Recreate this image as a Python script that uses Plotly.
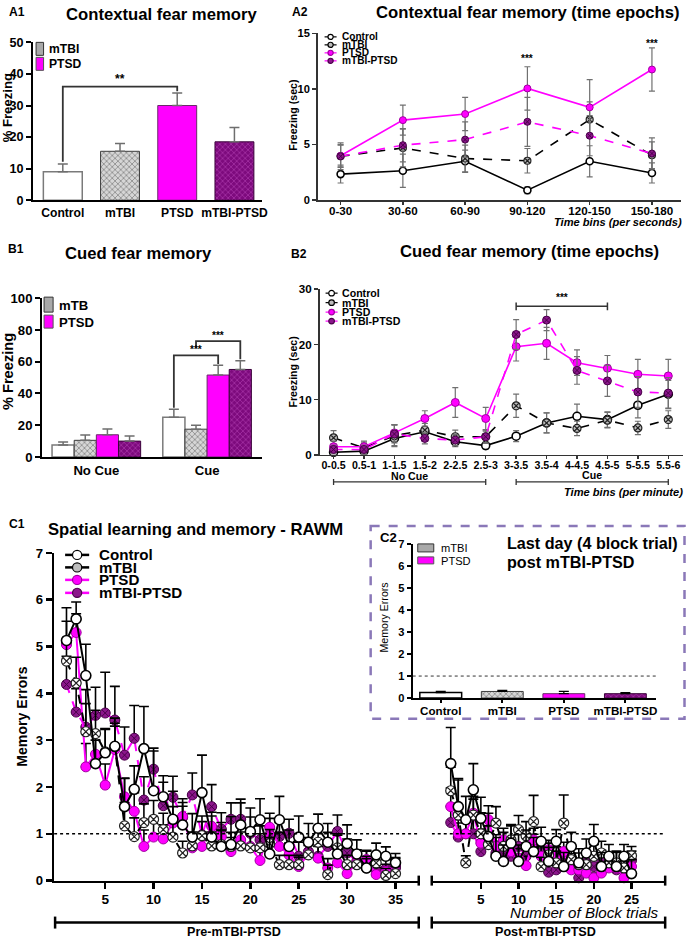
import plotly.graph_objects as go

# ---------------- data ----------------
a1_groups = ["Control", "mTBI", "PTSD", "mTBI-PTSD"]
a1_mean = [9.0, 15.5, 30.0, 18.5]
a1_sem = [2.5, 2.5, 4.0, 4.5]

a2_bins = ["0-30", "30-60", "60-90", "90-120", "120-150", "150-180"]
a2_control = [2.35, 2.65, 3.5, 0.9, 3.5, 2.45]
a2_control_err = [0.8, 1.5, 1.0, 0.3, 1.4, 0.9]
a2_mtbi = [3.95, 4.7, 3.75, 3.55, 7.25, 4.05]
a2_mtbi_err = [1.2, 1.7, 1.2, 1.1, 1.6, 1.2]
a2_ptsd = [4.0, 7.2, 7.75, 10.05, 8.35, 11.75]
a2_ptsd_err = [1.0, 1.35, 1.5, 1.95, 2.5, 1.95]
a2_combo = [3.95, 4.95, 5.45, 7.05, 5.8, 4.2]
a2_combo_err = [1.0, 1.5, 1.6, 2.2, 1.8, 1.4]

b1_conditions = ["No Cue", "Cue"]
b1_control = [7.5, 25.0]
b1_control_err = [2.0, 5.0]
b1_mtbi = [10.5, 17.5]
b1_mtbi_err = [3.3, 2.5]
b1_ptsd = [14.0, 51.6]
b1_ptsd_err = [3.6, 6.2]
b1_combo = [10.0, 55.1]
b1_combo_err = [3.2, 5.5]

b2_bins = ["0-0.5", "0.5-1", "1-1.5", "1.5-2", "2-2.5", "2.5-3",
           "3-3.5", "3.5-4", "4-4.5", "4.5-5", "5-5.5", "5.5-6"]
b2_control = [0.5, 0.7, 3.0, 4.2, 2.4, 1.7, 3.4, 5.8, 7.0, 6.4, 9.0, 11.0]
b2_control_err = [0.5, 0.4, 1.3, 1.0, 0.9, 0.6, 1.0, 1.8, 2.2, 1.4, 2.3, 2.5]
b2_mtbi = [3.1, 1.3, 3.5, 4.5, 3.3, 3.3, 8.9, 5.8, 4.8, 6.3, 4.9, 6.4]
b2_mtbi_err = [1.3, 1.2, 2.0, 1.2, 1.2, 1.2, 2.1, 1.8, 1.3, 1.4, 1.2, 1.6]
b2_ptsd = [1.5, 1.5, 4.0, 6.6, 9.5, 6.6, 19.6, 20.2, 16.7, 15.7, 14.6, 14.3]
b2_ptsd_err = [1.0, 0.8, 1.5, 1.4, 2.7, 2.0, 2.6, 2.9, 2.3, 2.3, 2.7, 3.0]
b2_combo = [1.0, 1.0, 3.8, 3.0, 2.7, 3.3, 21.8, 24.4, 15.3, 13.4, 11.4, 11.2]
b2_combo_err = [0.8, 0.8, 1.6, 1.0, 1.0, 1.0, 2.7, 1.9, 2.5, 2.8, 2.8, 2.8]

pre_trials = list(range(1, 36))
pre_control = [5.13, 5.59, 4.38, 2.5, 2.73, 2.87, 1.58, 1.95, 2.82, 1.92, 1.79, 1.31, 1.19, 0.93, 1.88,
               0.93, 0.73, 0.77, 1.19, 1.05, 1.3, 0.57, 1.3, 0.73, 0.93, 0.82, 1.12, 0.82, 0.57, 0.79,
               0.57, 0.27, 0.55, 0.52, 0.38]
pre_control_err = [0.7, 0.36, 0.67, 0.5, 0.5, 0.6, 0.6, 0.5, 0.9, 0.85, 0.45, 0.6, 0.4, 0.5, 0.8,
                   0.45, 0.35, 0.6, 0.55, 0.5, 0.45, 0.35, 0.5, 0.35, 0.45, 0.4, 0.3, 0.4, 0.4, 0.4,
                   0.3, 0.25, 0.25, 0.2, 0.2]
pre_mtbi = [4.69, 4.22, 3.18, 3.14, 2.75, 2.86, 1.17, 0.94, 1.24, 1.31, 1.09, 0.93, 0.59, 0.74, 0.96,
            0.74, 0.77, 0.73, 0.74, 0.7, 0.7, 0.79, 0.34, 0.34, 0.34, 0.55, 0.82, 0.13, 0.7, 0.34,
            0.34, 0.27, 0.38, 0.11, 0.15]
pre_mtbi_err = [0.4, 0.55, 0.6, 0.5, 0.5, 0.5, 0.5, 0.4, 0.4, 0.4, 0.35, 0.3, 0.25, 0.3, 0.3,
                0.3, 0.3, 0.3, 0.3, 0.3, 0.3, 0.3, 0.2, 0.2, 0.2, 0.2, 0.3, 0.2, 0.3, 0.2,
                0.2, 0.2, 0.2, 0.15, 0.15]
pre_ptsd = [5.04, 5.3, 2.43, 2.7, 2.04, 2.8, 1.79, 1.48, 0.73, 0.93, 0.89, 1.23, 1.37, 0.7, 0.73,
            1.16, 0.94, 0.62, 0.87, 0.73, 0.43, 1.14, 0.73, 0.55, 0.3, 0.57, 0.48, 0.27, 0.38, 0.15,
            0.38, 0.45, 0.13, 0.2, 0.34]
pre_ptsd_err = [0.5, 0.4, 0.5, 0.5, 0.45, 0.5, 0.4, 0.4, 0.35, 0.35, 0.3, 0.35, 0.3, 0.3, 0.3,
                0.3, 0.3, 0.3, 0.3, 0.3, 0.2, 0.3, 0.3, 0.25, 0.2, 0.25, 0.25, 0.2, 0.2, 0.15,
                0.2, 0.2, 0.15, 0.15, 0.15]
pre_combo = [4.19, 3.6, 3.28, 3.53, 3.58, 3.43, 2.68, 3.04, 1.72, 2.38, 1.6, 1.78, 1.35, 1.83, 0.98,
             1.58, 1.1, 1.31, 1.31, 1.01, 0.87, 0.98, 0.94, 1.01, 0.52, 0.62, 0.52, 0.73, 1.05, 0.59,
             0.41, 0.38, 0.23, 0.25, 0.27]
pre_combo_err = [0.6, 0.5, 0.8, 0.6, 0.87, 0.72, 0.6, 0.7, 0.5, 0.45, 0.5, 0.45, 0.4, 0.47, 0.4,
                 0.47, 0.35, 0.35, 0.35, 0.35, 0.3, 0.35, 0.3, 0.3, 0.3, 0.3, 0.25, 0.3, 0.35, 0.3,
                 0.25, 0.25, 0.2, 0.2, 0.2]

post_trials = list(range(1, 26))
post_control = [2.5, 1.58, 1.3, 1.94, 1.33, 0.94, 0.52, 0.41, 0.8, 0.41, 0.73, 0.62, 0.84, 0.41, 0.84,
                0.3, 0.73, 0.38, 0.59, 0.84, 0.3, 0.52, 0.3, 0.52, 0.15]
post_control_err = [0.77, 0.6, 0.5, 0.56, 0.45, 0.5, 0.4, 0.35, 0.4, 0.35, 0.35, 0.3, 0.3, 0.3, 0.25,
                    0.3, 0.3, 0.3, 0.3, 0.36, 0.3, 0.25, 0.3, 0.25, 0.3]
post_mtbi = [1.92, 1.4, 0.38, 1.4, 1.0, 0.77, 1.23, 0.73, 0.87, 1.09, 0.96, 1.26, 0.3, 0.55, 0.38,
             1.23, 0.45, 0.34, 0.34, 0.52, 0.59, 0.38, 0.38, 0.27, 0.53]
post_mtbi_err = [0.5, 0.75, 0.15, 0.4, 0.45, 0.4, 0.35, 0.3, 0.3, 0.3, 0.3, 0.56, 0.2, 0.25, 0.25,
                 0.6, 0.3, 0.25, 0.25, 0.25, 0.25, 0.2, 0.25, 0.2, 0.2]
post_ptsd = [1.58, 1.0, 1.0, 1.44, 0.8, 1.3, 0.73, 0.87, 0.62, 0.48, 0.32, 0.87, 0.52, 0.66, 0.52,
             0.62, 0.23, 0.23, 0.16, 0.06, 0.16, 0.27, 0.27, 0.06, 0.3]
post_ptsd_err = [0.4, 0.3, 0.3, 0.3, 0.3, 0.3, 0.25, 0.25, 0.25, 0.2, 0.2, 0.25, 0.2, 0.2, 0.2,
                 0.2, 0.15, 0.15, 0.15, 0.1, 0.15, 0.15, 0.15, 0.1, 0.15]
post_combo = [1.24, 0.93, 1.0, 1.0, 0.62, 0.87, 0.59, 0.55, 0.52, 0.73, 0.52, 0.74, 0.59, 0.18, 0.23,
              0.45, 0.38, 0.06, 0.38, 0.3, 0.45, 0.34, 0.23, 0.27, 0.43]
post_combo_err = [0.35, 0.3, 0.3, 0.3, 0.25, 0.3, 0.25, 0.25, 0.25, 0.25, 0.2, 0.25, 0.2, 0.15, 0.15,
                  0.2, 0.2, 0.1, 0.2, 0.15, 0.2, 0.15, 0.15, 0.15, 0.2]

c2_groups = ["Control", "mTBI", "PTSD", "mTBI-PTSD"]
c2_mean = [0.25, 0.3, 0.2, 0.2]
c2_err = [0.05, 0.05, 0.1, 0.05]

pre_ticks = [5, 10, 15, 20, 25, 30, 35]
post_ticks = [5, 10, 15, 20, 25]

# ---------------- helpers ----------------
W, H = 690, 944
SX, SY, OY = 0.991, 0.985, 6.6   # compensation for how the page is photographed
def PX(x): return min(x / SX, W - 0.5) / W
def PY(y): return 1 - min(max((y - OY) / SY, 0.5), H - 0.5) / H

FONT = "Liberation Sans, Arial, sans-serif"
MAG = "#FF00FF"
PUR = "#8B168B"

def fnt(size, bold=True, italic=False, color="black"):
    d = dict(family=FONT, size=round(size * 1.01, 2), color=color, weight="bold" if bold else "normal")
    if italic:
        d["style"] = "italic"
    return d

bar_style = {
    "Control": dict(color="white", line=dict(color="#7a7a7a", width=1.5)),
    "mTBI": dict(color="#bdbdbd", line=dict(color="#3c3c3c", width=1),
                 pattern=dict(shape="x", fgcolor="#4a4a4a", bgcolor="#d6d6d6", size=4, solidity=0.4)),
    "PTSD": dict(color=MAG, line=dict(color="#6a2a6a", width=1)),
    "mTBI-PTSD": dict(color=PUR, line=dict(color="#3a003a", width=1),
                      pattern=dict(shape="x", fgcolor="#c24fc2", bgcolor="#7d0a7d", size=4, solidity=0.4)),
}

def line_style(group, lw, msize, mtbi_fill):
    if group == "Control":
        return dict(line=dict(color="black", width=lw),
                    marker=dict(symbol="circle", size=msize, color="white", line=dict(color="black", width=1.6)))
    if group == "mTBI":
        return dict(line=dict(color="black", width=lw, dash="dash"),
                    marker=dict(symbol="circle-x", size=msize, color=mtbi_fill, line=dict(color="#222", width=1.2)))
    if group == "PTSD":
        return dict(line=dict(color=MAG, width=lw),
                    marker=dict(symbol="circle", size=msize, color=MAG, line=dict(color="#a000a0", width=1)))
    return dict(line=dict(color=MAG, width=lw, dash="dash"),
                marker=dict(symbol="circle-x", size=msize, color=PUR, line=dict(color="#4a004a", width=1)))

fig = go.Figure()

# ---------------- A1 ----------------
for g, m, e in zip(a1_groups, a1_mean, a1_sem):
    fig.add_trace(go.Bar(x=[g], y=[m], xaxis="x", yaxis="y", width=0.68, offset=-0.34,
                         marker=bar_style[g],
                         error_y=dict(type="data", array=[e], arrayminus=[0], symmetric=False,
                                      color="#6e6e6e", thickness=1.5, width=5)))

# ---------------- A2 ----------------
for g, ys, es in [("Control", a2_control, a2_control_err), ("mTBI", a2_mtbi, a2_mtbi_err),
                  ("PTSD", a2_ptsd, a2_ptsd_err), ("mTBI-PTSD", a2_combo, a2_combo_err)]:
    st = line_style(g, 1.6, 7, "#bdbdbd")
    fig.add_trace(go.Scatter(x=a2_bins, y=ys, xaxis="x2", yaxis="y2", mode="lines+markers",
                             cliponaxis=False, **st,
                             error_y=dict(type="data", array=es, color="#707070", thickness=1.2, width=3)))

# ---------------- B1 ----------------
for g, ys, es, off in [("Control", b1_control, b1_control_err, -0.4), ("mTBI", b1_mtbi, b1_mtbi_err, -0.2),
                       ("PTSD", b1_ptsd, b1_ptsd_err, 0.0), ("mTBI-PTSD", b1_combo, b1_combo_err, 0.2)]:
    fig.add_trace(go.Bar(x=b1_conditions, y=ys, xaxis="x3", yaxis="y3", width=0.2, offset=off,
                         marker=bar_style[g],
                         error_y=dict(type="data", array=es, arrayminus=[0] * len(es), symmetric=False,
                                      color="#6e6e6e", thickness=1.5, width=5)))

# ---------------- B2 ----------------
for g, ys, es in [("Control", b2_control, b2_control_err), ("mTBI", b2_mtbi, b2_mtbi_err),
                  ("PTSD", b2_ptsd, b2_ptsd_err), ("mTBI-PTSD", b2_combo, b2_combo_err)]:
    st = line_style(g, 1.6, 8, "#bdbdbd")
    fig.add_trace(go.Scatter(x=b2_bins, y=ys, xaxis="x4", yaxis="y4", mode="lines+markers",
                             cliponaxis=False, **st,
                             error_y=dict(type="data", array=es, color="#707070", thickness=1.2, width=3)))

# ---------------- C1 ----------------
c1_pre = [("mTBI-PTSD", pre_combo, pre_combo_err), ("PTSD", pre_ptsd, pre_ptsd_err),
          ("mTBI", pre_mtbi, pre_mtbi_err), ("Control", pre_control, pre_control_err)]
c1_post = [("mTBI-PTSD", post_combo, post_combo_err), ("PTSD", post_ptsd, post_ptsd_err),
           ("mTBI", post_mtbi, post_mtbi_err), ("Control", post_control, post_control_err)]
for (g, ys, es) in c1_pre:
    st = line_style(g, 2, 10, "white")
    fig.add_trace(go.Scatter(x=pre_trials, y=ys, xaxis="x5", yaxis="y5", mode="lines+markers",
                             cliponaxis=False, **st,
                             error_y=dict(type="data", array=es, arrayminus=[0] * len(es), symmetric=False,
                                          color="black", thickness=1.6, width=5)))
for (g, ys, es) in c1_post:
    st = line_style(g, 2, 10, "white")
    fig.add_trace(go.Scatter(x=post_trials, y=ys, xaxis="x6", yaxis="y5", mode="lines+markers",
                             cliponaxis=False, **st,
                             error_y=dict(type="data", array=es, arrayminus=[0] * len(es), symmetric=False,
                                          color="black", thickness=1.6, width=5)))

# ---------------- C2 ----------------
for g, m, e in zip(c2_groups, c2_mean, c2_err):
    fig.add_trace(go.Bar(x=[g], y=[m], xaxis="x7", yaxis="y7", width=0.68, offset=-0.34,
                         marker=bar_style[g] if g != "Control" else dict(color="white", line=dict(color="black", width=1.5)),
                         error_y=dict(type="data", array=[e], arrayminus=[0], symmetric=False,
                                      color="black", thickness=1.2, width=5)))

# ---------------- axes ----------------
def xax(x0, x1, anchor, rng, tickfont, ticks="", ticklen=0, lw=2, lc="black", cat=True, **kw):
    d = dict(domain=[PX(x0), PX(x1)], anchor=anchor, range=rng, showline=True, linecolor=lc, linewidth=lw,
             showgrid=False, zeroline=False, ticks=ticks, ticklen=ticklen, tickwidth=lw, tickcolor=lc,
             tickfont=tickfont, fixedrange=True)
    if cat:
        d["type"] = "category"
    d.update(kw)
    return d

def yax(y0, y1, anchor, rng, dtick, tickfont, lw=2, lc="black", ticklen=5, **kw):
    d = dict(domain=[PY(y0), PY(y1)], anchor=anchor, range=rng, dtick=dtick, showline=True, linecolor=lc,
             linewidth=lw, showgrid=False, zeroline=False, ticks="outside", ticklen=ticklen, tickwidth=lw,
             tickcolor=lc, tickfont=tickfont, fixedrange=True)
    d.update(kw)
    return d

fig.update_layout(
    xaxis=xax(33, 262, "y", [-0.52, 3.49], fnt(12)),
    yaxis=yax(200, 42, "x", [0, 50], 10, fnt(12.5)),
    xaxis2=xax(317, 680, "y2", [-0.37, 5.47], fnt(11.5), ticks="outside", ticklen=3, lw=1.5, lc="#333",
               ticklabelstandoff=-4),
    yaxis2=yax(200, 33, "x2", [0, 15], 5, fnt(11), lw=1.5, lc="#333", ticklen=4),
    xaxis3=xax(42, 262, "y3", [-0.49, 1.5], fnt(13)),
    yaxis3=yax(457, 298, "x3", [0, 100], 20, fnt(13)),
    xaxis4=xax(319, 682, "y4", [-0.46, 11.49], fnt(10.5), ticks="outside", ticklen=3, lw=1.5, lc="#333",
               ticklabelstandoff=-3),
    yaxis4=yax(455, 289, "x4", [0, 30], 10, fnt(11.5), lw=1.5, lc="#333", ticklen=4),
    xaxis5=xax(54, 418, "y5", [-0.28, 37.4], fnt(13.5), ticks="outside", ticklen=6, lw=2.5, cat=False,
               tickmode="array", tickvals=pre_ticks, ticklabelstandoff=-1),
    xaxis6=xax(431, 664, "y5", [-1.52, 29.47], fnt(13.5), ticks="outside", ticklen=6, lw=2.5, cat=False,
               tickmode="array", tickvals=post_ticks, ticklabelstandoff=-1),
    yaxis5=yax(881, 553, "x5", [0, 7], 1, fnt(13), lw=2.5, ticklen=6),
    xaxis7=xax(412, 655, "y7", [-0.455, 3.5], fnt(11.5), ticks="outside", ticklen=3, lw=2,
               ticklabelstandoff=-2),
    yaxis7=yax(698.3, 544, "x7", [0, 7], 1, fnt(11), lw=2, ticklen=4),
)

# ---------------- shapes & annotations ----------------
shapes = []
anns = []

def ann(text, x, y, size, bold=True, italic=False, xanchor="center", yanchor="middle", angle=0,
        xref="paper", yref="paper", color="black"):
    anns.append(dict(text=text, x=PX(x) if xref == "paper" else x, y=PY(y) if yref == "paper" else y,
                     xref=xref, yref=yref, showarrow=False, xanchor=xanchor, yanchor=yanchor,
                     textangle=angle, font=fnt(size, bold, italic, color)))

def pline(x0, y0, x1, y1, color="black", width=1.5, dash="solid"):
    shapes.append(dict(type="line", xref="paper", yref="paper", x0=PX(x0), y0=PY(y0), x1=PX(x1), y1=PY(y1),
                       line=dict(color=color, width=width, dash=dash)))

def prect(x0, y0, x1, y1, fill, lc="#333", lw=1, dash="solid"):
    shapes.append(dict(type="rect", xref="paper", yref="paper", x0=PX(x0), y0=PY(y0), x1=PX(x1), y1=PY(y1),
                       fillcolor=fill, line=dict(color=lc, width=lw, dash=dash)))

def pcircle(cx, cy, r, fill, lc, lw=1):
    shapes.append(dict(type="circle", xref="paper", yref="paper", x0=PX(cx - r), x1=PX(cx + r),
                       y0=PY(cy + r), y1=PY(cy - r), fillcolor=fill, line=dict(color=lc, width=lw)))

def dpath(points, xr, yr, color="#333", width=1.5, dash="solid"):
    path = "M" + " L".join(f"{x},{y}" for x, y in points)
    shapes.append(dict(type="path", xref=xr, yref=yr, path=path, line=dict(color=color, width=width, dash=dash)))

def dline(x0, y0, x1, y1, xr, yr, color="black", width=1.5, dash="solid"):
    shapes.append(dict(type="line", xref=xr, yref=yr, x0=x0, y0=y0, x1=x1, y1=y1,
                       line=dict(color=color, width=width, dash=dash)))

# titles & panel labels
ann("A1", 7, 12, 12, xanchor="left")
ann("Contextual fear memory", 161, 14, 16.5)
ann("A2", 289, 12, 12, xanchor="left")
ann("Contextual fear memory (time epochs)", 527, 12, 16.5)
ann("B1", 6, 249, 12, xanchor="left")
ann("Cued fear memory", 138, 253, 16.5)
ann("B2", 288, 254, 12, xanchor="left")
ann("Cued fear memory (time epochs)", 529, 251, 16.5)
ann("C1", 7, 524, 12, xanchor="left")
ann("Spatial learning and memory - RAWM", 195, 530, 16.5)
ann("C2", 377, 538, 13, xanchor="left")
ann("Last day (4 block trial)", 504, 543, 16, xanchor="left")
ann("post mTBI-PTSD", 504, 562, 16, xanchor="left")

# axis titles
ann("% Freezing", 7, 108, 13, angle=-90)
ann("Freezing (sec)", 293, 115, 10.5, angle=-90)
ann("Time bins (per seconds)", 683, 222, 11, italic=True, xanchor="right")
ann("% Freezing", 8, 372, 14.5, angle=-90)
ann("Freezing (sec)", 293, 372, 10.5, angle=-90)
ann("Time bins (per minute)", 687, 492, 11, italic=True, xanchor="right")
ann("Memory Errors", 22, 717, 14, angle=-90)
ann("Number of Block trials", 660, 913, 15, bold=False, italic=True, xanchor="right")
ann("Memory Errors", 383, 618, 10.5, bold=False, angle=-90)

# A1 legend
prect(36, 42, 43.5, 55, "#a9a9a9", "#333")
prect(36, 57, 43.5, 70, MAG, "#555")
ann("mTBI", 47, 48.5, 12, xanchor="left")
ann("PTSD", 47, 63.5, 12, xanchor="left")
# B1 legend
prect(44, 297, 53, 312, "#a9a9a9", "#333")
prect(44, 315, 53, 328, MAG, "#555")
ann("mTB", 57, 305, 13, xanchor="left")
ann("PTSD", 57, 322, 13, xanchor="left")
# C2 legend
prect(417, 544, 433, 552, "#a9a9a9", "#333")
prect(417, 557, 433, 564, MAG, "#555")
ann("mTBI", 438, 548, 11, bold=False, xanchor="left")
ann("PTSD", 438, 561, 11, bold=False, xanchor="left")

# scatter legends
leg_groups = ["Control", "mTBI", "PTSD", "mTBI-PTSD"]
leg_look = {
    "Control": ("black", "solid", "white", "black"),
    "mTBI": ("black", "solid", "#bdbdbd", "black"),
    "PTSD": (MAG, "solid", MAG, "#a000a0"),
    "mTBI-PTSD": (MAG, "solid", PUR, "#4a004a"),
}
def scatter_legend(xs, xl0, xl1, xt, rows, r, size, lw):
    for g, yy in zip(leg_groups, rows):
        lc, dash, fill, edge = leg_look[g]
        pline(xl0, yy, xl1, yy, lc, lw, dash)
        pcircle(xs, yy, r, fill, edge, 1.2)
        ann(g, xt, yy, size, xanchor="left")

scatter_legend(330, 324, 336, 339, [36.5, 44.5, 52.5, 60.5], 2.6, 10, 1.2)
scatter_legend(331, 325, 337, 339, [293, 302.5, 312, 321], 2.8, 10.5, 1.2)
scatter_legend(77, 65, 89, 97, [555, 567.5, 580, 593], 4.6, 15, 2.5)

# A1 significance bracket
dpath([(0, 12.2), (0, 36), (2, 36), (2, 34.5)], "x", "y", "#333", 1.8)
ann("**", 1, 38.3, 12, xref="x", yref="y")
# A2 stars
ann("***", 3, 12.7, 10, xref="x2", yref="y2")
ann("***", 5, 14.1, 10, xref="x2", yref="y2")
# B1 brackets
dpath([(0.7, 31), (0.7, 64), (1.1, 64), (1.1, 58.5)], "x3", "y3", "#333", 1.8)
ann("***", 0.9, 67.5, 10, xref="x3", yref="y3")
dpath([(0.9, 69), (0.9, 73), (1.3, 73), (1.3, 61.5)], "x3", "y3", "#333", 1.8)
ann("***", 1.1, 76.5, 10, xref="x3", yref="y3")
# B2 bracket
dline(6, 26.9, 9, 26.9, "x4", "y4", "#333", 1.5)
dline(6, 26.2, 6, 27.6, "x4", "y4", "#333", 1.5)
dline(9, 26.2, 9, 27.6, "x4", "y4", "#333", 1.5)
ann("***", 7.5, 28.4, 10, xref="x4", yref="y4")
# B2 cue brackets
for xa, xb in [(0, 5), (6, 11)]:
    shapes.append(dict(type="line", xref="x4", yref="paper", x0=xa, x1=xb, y0=PY(482), y1=PY(482),
                       line=dict(color="#333", width=1.3)))
    for xe in (xa, xb):
        shapes.append(dict(type="line", xref="x4", yref="paper", x0=xe, x1=xe, y0=PY(479), y1=PY(485),
                           line=dict(color="#333", width=1.3)))
anns.append(dict(text="No Cue", x=2.5, y=PY(476), xref="x4", yref="paper", showarrow=False, font=fnt(10.5)))
anns.append(dict(text="Cue", x=8.5, y=PY(475), xref="x4", yref="paper", showarrow=False, font=fnt(10.5)))

# C1 reference lines at 1
dline(-0.28, 1, 37.4, 1, "x5", "y5", "black", 1.6, "dot")
dline(-1.52, 1, 29.47, 1, "x6", "y5", "black", 1.6, "dot")
# C1 axis end ticks
pline(418, 876, 418, 886, "black", 2.5)
pline(431, 876, 431, 886, "black", 2.5)
pline(664, 876, 664, 886, "black", 2.5)
# C1 phase brackets
for xa, xb, lab, cx in [(55, 418, "Pre-mTBI-PTSD", 234), (431, 664, "Post-mTBI-PTSD", 545)]:
    pline(xa, 923, xb, 923, "black", 2.5)
    pline(xa, 917, xa, 929, "black", 2.5)
    pline(xb, 917, xb, 929, "black", 2.5)
    ann(lab, cx, 932, 12.5)

# C2 dotted line and frame
dline(-0.455, 1, 3.5, 1, "x7", "y7", "#333", 1, "dot")
prect(370, 526, 686, 719, "rgba(0,0,0,0)", "#8A78B8", 2.5, "dash")

fig.update_layout(
    width=W, height=H, autosize=False, margin=dict(l=0, r=0, t=0, b=0),
    paper_bgcolor="white", plot_bgcolor="white", showlegend=False, barmode="group",
    font=dict(family=FONT, color="black"),
    shapes=shapes, annotations=anns,
)

fig.write_html("out.html", config={"displayModeBar": False, "staticPlot": True},
               post_script="document.documentElement.style.margin='0';document.body.style.margin='0';"
                           "document.body.style.padding='0';document.documentElement.style.overflow='hidden';"
                           "var d=document.getElementById('{plot_id}');d.style.position='fixed';"
                           "d.style.left='0px';d.style.top='0px';")
